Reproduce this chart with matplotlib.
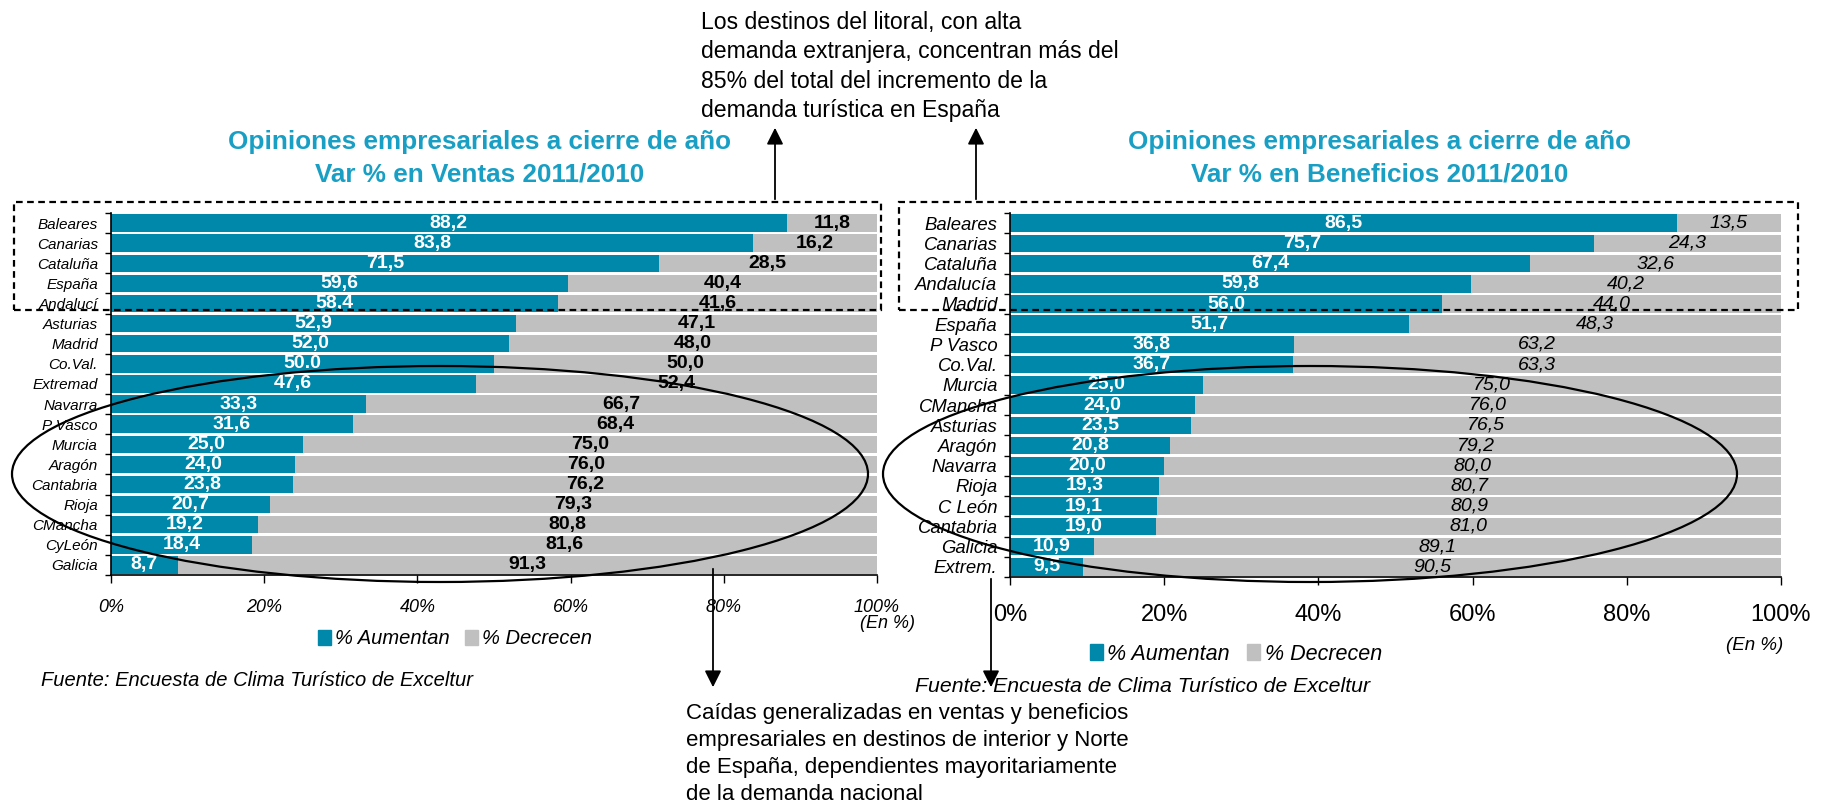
import numpy as np
import matplotlib.pyplot as plt
from matplotlib.patches import Rectangle, Ellipse, FancyArrowPatch, Patch

plt.rcParams['font.family'] = ['Liberation Sans', 'DejaVu Sans']

W, H = 1828, 802
BLUE = '#0088ab'
GRAY = '#c0c0c0'
TITLE_BLUE = '#1a9fc4'

# Var % en Ventas 2011/2010
ventas_regions = ['Baleares', 'Canarias', 'Cataluña', 'España', 'Andalucí', 'Asturias',
                  'Madrid', 'Co.Val.', 'Extremad', 'Navarra', 'P Vasco', 'Murcia',
                  'Aragón', 'Cantabria', 'Rioja', 'CMancha', 'CyLeón', 'Galicia']
ventas_up = [88.2, 83.8, 71.5, 59.6, 58.4, 52.9, 52.0, 50.0, 47.6, 33.3, 31.6, 25.0,
             24.0, 23.8, 20.7, 19.2, 18.4, 8.7]
ventas_down = [11.8, 16.2, 28.5, 40.4, 41.6, 47.1, 48.0, 50.0, 52.4, 66.7, 68.4, 75.0,
               76.0, 76.2, 79.3, 80.8, 81.6, 91.3]

# Var % en Beneficios 2011/2010
benef_regions = ['Baleares', 'Canarias', 'Cataluña', 'Andalucía', 'Madrid', 'España',
                 'P Vasco', 'Co.Val.', 'Murcia', 'CMancha', 'Asturias', 'Aragón',
                 'Navarra', 'Rioja', 'C León', 'Cantabria', 'Galicia', 'Extrem.']
benef_up = [86.5, 75.7, 67.4, 59.8, 56.0, 51.7, 36.8, 36.7, 25.0, 24.0, 23.5, 20.8,
            20.0, 19.3, 19.1, 19.0, 10.9, 9.5]
benef_down = [13.5, 24.3, 32.6, 40.2, 44.0, 48.3, 63.2, 63.3, 75.0, 76.0, 76.5, 79.2,
              80.0, 80.7, 80.9, 81.0, 89.1, 90.5]

x_ticks = [0, 20, 40, 60, 80, 100]
x_ticklabels = ['0%', '20%', '40%', '60%', '80%', '100%']


def fx(x):
    return x / W


def fy(y):
    return 1 - y / H


def fmt(v):
    return f'{v:.1f}'.replace('.', ',')


def draw_panel(ax, regions, up, down, ylab_size, ylab_pad, tick_size, tick_style,
               tick_pad, down_weight, down_style):
    n = len(regions)
    y = np.arange(n)
    ax.barh(y, up, height=0.87, color=BLUE)
    ax.barh(y, down, left=up, height=0.87, color=GRAY)
    for i in range(n):
        up_lab = fmt(up[i])
        if regions is ventas_regions and regions[i] == 'Co.Val.':
            up_lab = '50.0'  # as printed in the source
        ax.text(up[i] / 2, i, up_lab, ha='center', va='center', color='white',
                fontsize=14, fontweight='bold')
        ax.text(up[i] + down[i] / 2, i, fmt(down[i]), ha='center', va='center',
                color='black', fontsize=14, fontweight=down_weight, fontstyle=down_style)
    ax.set_xlim(0, 100)
    ax.set_ylim(n - 0.5, -0.5)
    ax.set_yticks(y)
    ax.set_yticklabels(regions, fontsize=ylab_size, fontstyle='italic')
    ax.set_yticks(np.arange(n + 1) - 0.5, minor=True)
    ax.tick_params(axis='y', which='major', length=0, pad=ylab_pad)
    ax.tick_params(axis='y', which='minor', length=4, width=1)
    ax.set_xticks(x_ticks)
    ax.set_xticklabels(x_ticklabels, fontsize=tick_size, fontstyle=tick_style)
    ax.tick_params(axis='x', length=6, width=1, pad=tick_pad)
    for s in ['top', 'right']:
        ax.spines[s].set_visible(False)
    ax.spines['left'].set_linewidth(1.2)
    ax.spines['bottom'].set_linewidth(1.2)


fig = plt.figure(figsize=(W / 100, H / 100), dpi=100)

ax1 = fig.add_axes([fx(111), fy(575), (877 - 111) / W, (575 - 213) / H])
draw_panel(ax1, ventas_regions, ventas_up, ventas_down, 11, 9.5, 13, 'italic', 11.5,
           'bold', 'normal')
ax2 = fig.add_axes([fx(1010), fy(577), (1781 - 1010) / W, (577 - 213) / H])
draw_panel(ax2, benef_regions, benef_up, benef_down, 13.3, 9, 17, 'normal', 13.5,
           'normal', 'italic')

# titles
for cx, sub in [(480, 'Var % en Ventas 2011/2010'), (1380, 'Var % en Beneficios 2011/2010')]:
    fig.text(fx(cx), fy(142), 'Opiniones empresariales a cierre de año', ha='center',
             va='center', fontsize=18.8, fontweight='bold', color=TITLE_BLUE)
    fig.text(fx(cx), fy(174), sub, ha='center', va='center', fontsize=18.8,
             fontweight='bold', color=TITLE_BLUE)

# legends
for ax, cx, cy, size in [(ax1, 455, 639, 14.5), (ax2, 1236, 654, 15.5)]:
    ax.legend(handles=[Patch(color=BLUE, label='% Aumentan'),
                       Patch(color=GRAY, label='% Decrecen')],
              loc='center', bbox_to_anchor=(fx(cx), fy(cy)), bbox_transform=fig.transFigure,
              ncol=2, frameon=False, handlelength=0.6, handleheight=0.7,
              handletextpad=0.2, columnspacing=0.8,
              prop={'size': size, 'style': 'italic'})

fig.text(fx(888), fy(624), '(En %)', ha='center', va='center', fontsize=13,
         fontstyle='italic')
fig.text(fx(1755), fy(645), '(En %)', ha='center', va='center', fontsize=13.5,
         fontstyle='italic')

fig.text(fx(41), fy(680), 'Fuente: Encuesta de Clima Turístico de Exceltur', ha='left',
         va='center', fontsize=14.5, fontstyle='italic')
fig.text(fx(915), fy(686), 'Fuente: Encuesta de Clima Turístico de Exceltur', ha='left',
         va='center', fontsize=15.3, fontstyle='italic')

# dashed boxes around the litoral destinations
for x0, x1 in [(14, 881), (899, 1798)]:
    fig.add_artist(Rectangle((fx(x0), fy(310)), (x1 - x0) / W, (310 - 202) / H,
                             transform=fig.transFigure, fill=False, ec='black',
                             lw=1.6, ls=(0, (3, 2))))

# ellipses around interior destinations
for cx, w in [(440, 856), (1310, 854)]:
    fig.add_artist(Ellipse((fx(cx), fy(474)), w / W, 216 / H, transform=fig.transFigure,
                           fill=False, ec='black', lw=1.6))

# arrows
for x, y0, y1 in [(775, 202, 125), (976, 202, 125), (713, 566, 690), (991, 576, 690)]:
    fig.add_artist(FancyArrowPatch((fx(x), fy(y0)), (fx(x), fy(y1)),
                                   transform=fig.transFigure, arrowstyle='-|>',
                                   mutation_scale=25, lw=1.3, color='black'))

fig.text(fx(701), fy(11),
         'Los destinos del litoral, con alta\n'
         'demanda extranjera, concentran más del\n'
         '85% del total del incremento de la\n'
         'demanda turística en España',
         ha='left', va='top', fontsize=16.6, linespacing=1.35)

fig.text(fx(686), fy(703),
         'Caídas generalizadas en ventas y beneficios\n'
         'empresariales en destinos de interior y Norte\n'
         'de España, dependientes mayoritariamente\n'
         'de la demanda nacional',
         ha='left', va='top', fontsize=16, linespacing=1.38)

fig.savefig('out.png', dpi=100)
